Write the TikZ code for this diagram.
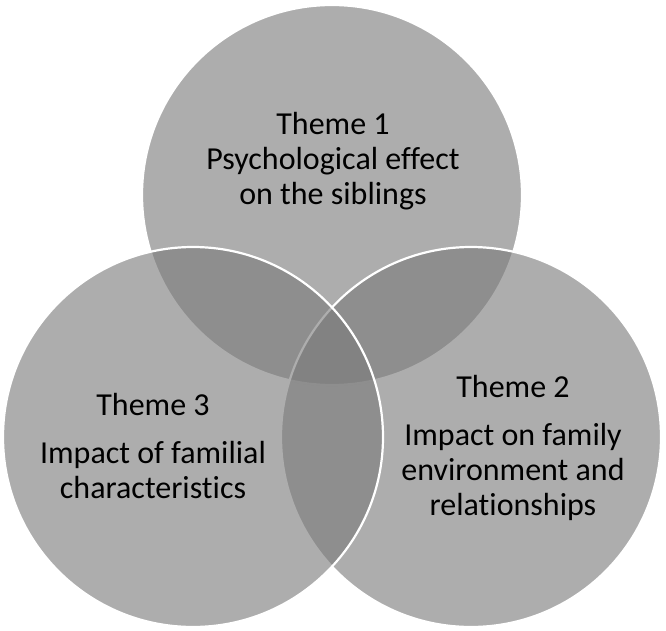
\documentclass[tikz,border=0pt]{standalone}
\usepackage{fontspec}
\setmainfont{Carlito}[Ligatures=NoCommon]
\usepackage{tikz}
\definecolor{themegray}{RGB}{123,123,123}

\begin{document}
\begin{tikzpicture}[x=1pt,y=1pt,
	themecircle/.style={circle,inner sep=0pt,minimum size=380pt,fill=themegray,fill opacity=0.62,draw=white,line width=2.2pt},
	themetext/.style={align=center,font=\fontsize{32}{35}\selectfont,text=black}]
	\useasboundingbox (0,0) rectangle (666,630);
	% circles: top first, then right, then left on top
	\node[themecircle] (top) at (332,435) {};
	\node[themecircle] (right) at (471,193) {};
	\node[themecircle] (left) at (193,193) {};
	% labels
	\node[themetext] (t1) at (333,469) {Theme 1\\Psychological effect\\on the siblings};
	\node[themetext] (t2) at (513,182) {Theme 2\\[13pt]Impact on family\\environment and\\relationships};
	\node[themetext] (t3) at (153,184) {Theme 3\\[13pt]Impact of familial\\characteristics};
\end{tikzpicture}
\end{document}
